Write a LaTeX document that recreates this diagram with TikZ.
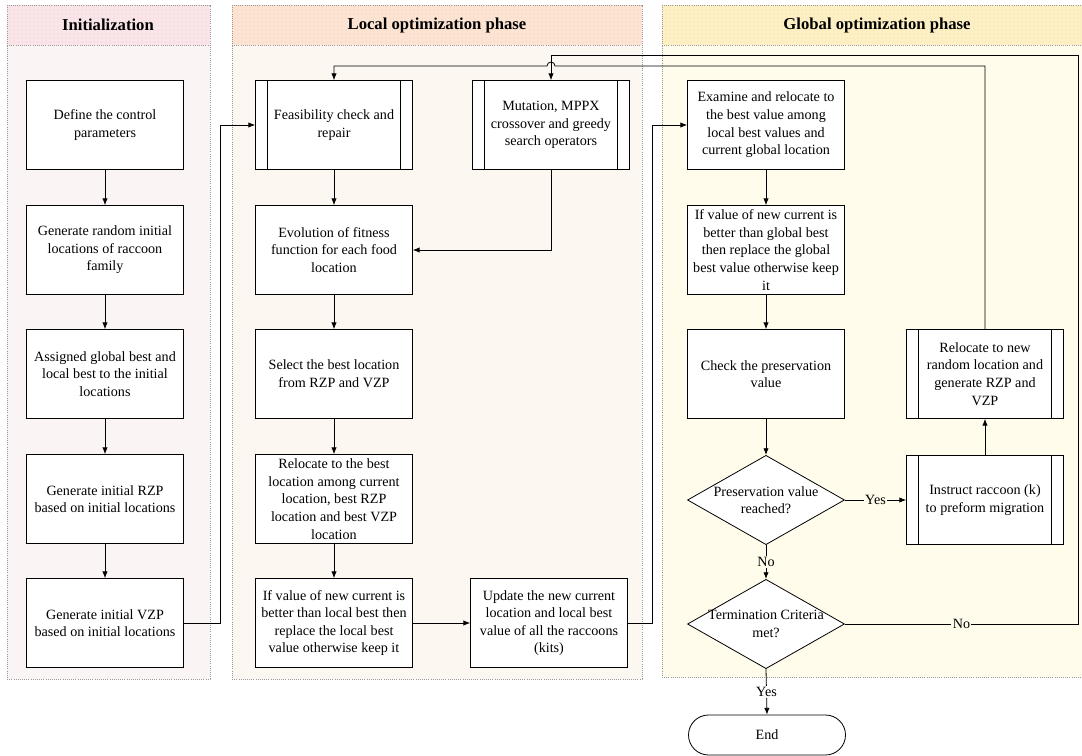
\documentclass[tikz,border=0pt]{standalone}
\usepackage{fontspec}
\setmainfont{Liberation Serif}
\usetikzlibrary{shapes.geometric, patterns, arrows.meta}

\definecolor{initHead}{HTML}{F9E2E5}
\definecolor{initBody}{HTML}{FBF4F4}
\definecolor{locHead}{HTML}{FBE1CE}
\definecolor{locBody}{HTML}{FCF7F1}
\definecolor{globHead}{HTML}{FDEEBF}
\definecolor{globBody}{HTML}{FFFCEC}

\begin{document}
\begin{tikzpicture}[x=0.75pt, y=-0.75pt,
    font=\fontsize{10.6}{13.2}\selectfont,
    lane/.style={draw=gray!80, densely dotted, line width=0.6pt},
    lanetitle/.style={font=\fontsize{12.5}{14}\selectfont\bfseries},
    box/.style={draw, fill=white, line width=0.6pt, minimum width=117.75pt, minimum height=66.75pt, align=center, inner sep=1pt},
    subproc/.style={box, path picture={
        \draw ([xshift=9pt]path picture bounding box.north west) -- ([xshift=9pt]path picture bounding box.south west);
        \draw ([xshift=-9pt]path picture bounding box.north east) -- ([xshift=-9pt]path picture bounding box.south east);}},
    decision/.style={draw, fill=white, line width=0.6pt, diamond, inner sep=0pt, minimum width=117.75pt, minimum height=67pt},
    terminal/.style={draw, fill=white, line width=0.6pt, rounded corners=15pt, minimum width=117.75pt, minimum height=30pt},
    arr/.style={-{Latex[length=5pt,width=4pt]}, line width=0.6pt},
    lbl/.style={inner sep=1pt, fill=globBody}]
    \useasboundingbox (0,0) rectangle (1082,756);

    % lanes
    \fill[initBody] (7,5) rectangle (210,679);
    \fill[initHead] (7,5) rectangle (210,45);
    \fill[pattern=dots, pattern color=white] (7,5) rectangle (210,45);
    \draw[lane] (7,5) rectangle (210,679) (7,45) -- (210,45);
    \fill[locBody] (232,5) rectangle (642,679);
    \fill[locHead] (232,5) rectangle (642,45);
    \fill[pattern=dots, pattern color=white] (232,5) rectangle (642,45);
    \draw[lane] (232,5) rectangle (642,679) (232,45) -- (642,45);
    \fill[globBody] (662,5) rectangle (1090,677);
    \fill[globHead] (662,5) rectangle (1090,45);
    \fill[pattern=dots, pattern color=white] (662,5) rectangle (1090,45);
    \draw[lane] (662,5) rectangle (1090,677) (662,45) -- (1090,45);

    \node[lanetitle] (tInit) at (108,25) {Initialization};
    \node[lanetitle] (tLoc) at (437,25) {Local optimization phase};
    \node[lanetitle] (tGlob) at (877,25) {Global optimization phase};

    % initialization
    \node[box] (define) at (105,125) {Define the control\\parameters};
    \node[box] (random) at (105,250) {Generate random initial\\locations of raccoon\\family};
    \node[box] (assign) at (105,374) {Assigned global best and\\local best to the initial\\locations};
    \node[box] (rzp) at (105,499) {Generate initial RZP\\based on initial locations};
    \node[box] (vzp) at (105,623) {Generate initial VZP\\based on initial locations};

    % local optimization
    \node[subproc] (feas) at (334,125) {Feasibility check and\\repair};
    \node[subproc] (mut) at (551,125) {Mutation, MPPX\\crossover and greedy\\search operators};
    \node[box] (evo) at (334,250) {Evolution of fitness\\function for each food\\location};
    \node[box] (select) at (334,374) {Select the best location\\from RZP and VZP};
    \node[box] (reloc) at (334,499) {Relocate to the best\\location among current\\location, best RZP\\location and best VZP\\location};
    \node[box] (ifloc) at (334,623) {If value of new current is\\better than local best then\\replace the local best\\value otherwise keep it};
    \node[box] (update) at (549,623) {Update the new current\\location and local best\\value of all the raccoons\\(kits)};

    % global optimization
    \node[box] (exam) at (766,125) {Examine and relocate to\\the best value among\\local best values and\\current global location};
    \node[box] (ifglob) at (766,250) {If value of new current is\\better than global best\\then replace the global\\best value otherwise keep\\it};
    \node[box] (check) at (766,374) {Check the preservation\\value};
    \node[decision] (pres) at (766,500) {};
    \node[align=center] (presT) at (pres) {Preservation value\\reached?};
    \node[subproc] (instr) at (985,500) {Instruct raccoon (k)\\to preform migration};
    \node[subproc] (newloc) at (985,374) {Relocate to new\\random location and\\generate RZP and\\VZP};
    \node[decision] (term) at (766,624) {};
    \node[align=center] (termT) at (term) {Termination Criteria\\met?};
    \node[terminal] (end) at (767,735) {End};

    \coordinate (j1) at (220,0);
    \coordinate (j2) at (652,0);
    \coordinate (j3) at (1078,0);
    \coordinate (top1) at (0,66);
    \coordinate (top2) at (0,55);

    % arrows
    \draw[arr] (define) -- (random);
    \draw[arr] (random) -- (assign);
    \draw[arr] (assign) -- (rzp);
    \draw[arr] (rzp) -- (vzp);
    \draw[arr] (vzp.east) -- (vzp.east -| j1) |- (feas.west);
    \draw[arr] (feas) -- (evo);
    \draw[arr] (mut.south) |- (evo.east);
    \draw[arr] (evo) -- (select);
    \draw[arr] (select) -- (reloc);
    \draw[arr] (reloc) -- (ifloc);
    \draw[arr] (ifloc) -- (update);
    \draw[arr] (update.east) -- (update.east -| j2) |- (exam.west);
    \draw[arr] (exam) -- (ifglob);
    \draw[arr] (ifglob) -- (check);
    \draw[arr] (check) -- (pres);
    \draw[arr] (pres.east) -- node[lbl] {Yes} (instr.west);
    \draw[arr] (instr) -- (newloc);
    \draw[arr] (newloc.north) -- (newloc.north |- top1)
        -- ([xshift=3pt]mut.north |- top1) arc[start angle=0, end angle=180, radius=3pt]
        -- (feas.north |- top1) -- (feas.north);
    \draw[arr] (term.east) -- node[lbl, pos=0.5] {No} (term.east -| j3) -- (j3 |- top2) -- (mut.north |- top2) -- (mut.north);
    \draw[arr] (pres.south) -- node[lbl] {No} (term.north);
    \draw[arr] (term.south) -- node[lbl, fill=white] {Yes} (end.north);
\end{tikzpicture}
\end{document}
